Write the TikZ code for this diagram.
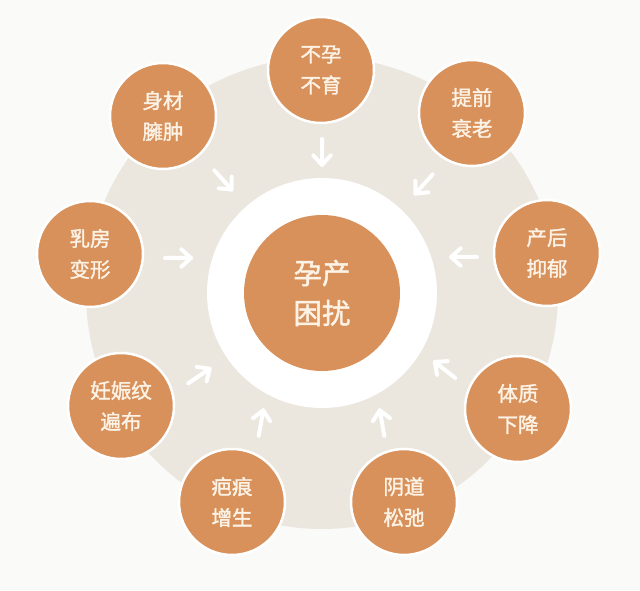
\documentclass[tikz,border=0pt]{standalone}
\usepackage{fontspec}
\setmainfont{Noto Sans CJK SC}[FakeBold=1.6]
\usetikzlibrary{calc}
\definecolor{bgc}{HTML}{FAFAF9}
\definecolor{ringc}{HTML}{EBE7DF}
\definecolor{orangec}{HTML}{D8915A}
\definecolor{txtc}{HTML}{FCF3E6}
\tikzset{
  topic/.style={circle, inner sep=0pt, minimum size=106pt, fill=orangec, draw=white, line width=2.5pt,
    text=txtc, align=center, font=\fontsize{20.5}{31}\selectfont},
  hub/.style={circle, inner sep=0pt, minimum size=156pt, fill=orangec,
    text=txtc, align=center, font=\fontsize{28.5}{40}\selectfont},
  arr/.style={draw=white, line width=4pt, line cap=round, line join=round}
}
\begin{document}
\begin{tikzpicture}[x=1pt,y=1pt]
\useasboundingbox (0,0) rectangle (640,590);
\fill[bgc] (0,0) rectangle (640,590);
\coordinate (c) at (322,297);
\fill[ringc] (c) circle (236);
\fill[white] (c) circle (115);
\node[hub] (hub) at (c) {孕产\\困扰};
\node[topic] (n1) at (321,520) {不孕\\不育};
\node[topic] (n2) at (472,477) {提前\\衰老};
\node[topic] (n3) at (547,337) {产后\\抑郁};
\node[topic] (n4) at (518,181) {体质\\下降};
\node[topic] (n5) at (404,88) {阴道\\松弛};
\node[topic] (n6) at (232,88) {疤痕\\增生};
\node[topic] (n7) at (121,184) {妊娠纹\\遍布};
\node[topic] (n8) at (90,336) {乳房\\变形};
\node[topic] (n9) at (163,474) {身材\\臃肿};
\foreach \n/\x/\y/\a in {1/322/152/-90, 2/424/184/228, 3/464/257/180, 4/445/370/142,
    5/382/423/100, 6/261/423/80, 7/199/376/34, 8/178/258/0, 9/223/180/-48} {
  \coordinate (a\n) at (\x,{590-\y});
  \coordinate (t\n) at ($(a\n)+({\a+180}:13)$);
  \coordinate (h\n) at ($(a\n)+(\a:13)$);
  \draw[arr] (t\n) -- (h\n) (h\n) -- ++({\a+138}:13) (h\n) -- ++({\a-138}:13);
}
\end{tikzpicture}
\end{document}
